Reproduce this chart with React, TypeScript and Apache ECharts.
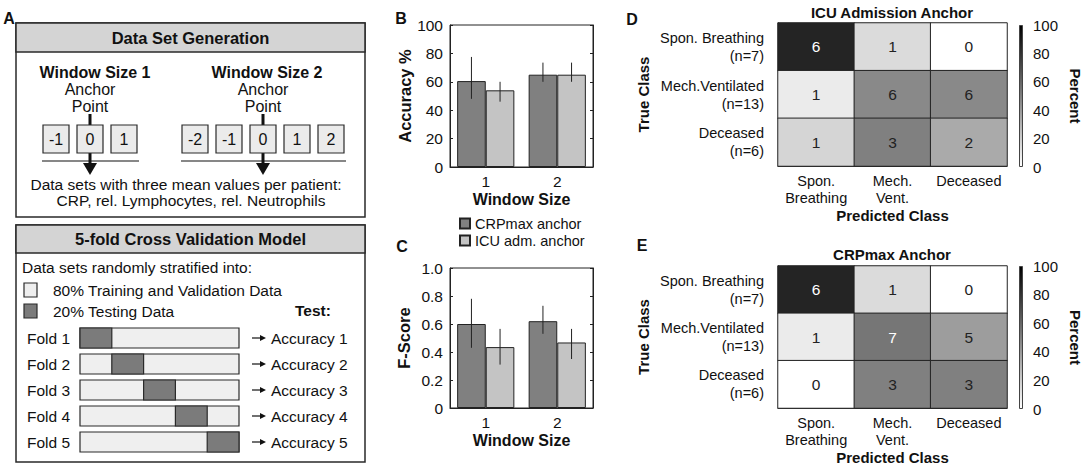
import React, { useEffect, useRef } from 'react';
import * as echarts from 'echarts';

const FONT = '"Liberation Sans", Arial, sans-serif';

// ---- Panel B / C data ----
const windowSizes = ['1', '2'];
const seriesNames = ['CRPmax anchor', 'ICU adm. anchor'];
const accuracyCRP = [60.5, 65];
const accuracyICU = [54, 65];
const accuracyErrCRP = [[48, 77.5], [60, 73.5]];
const accuracyErrICU = [[46, 60], [60, 73.5]];
const fscoreCRP = [0.6, 0.62];
const fscoreICU = [0.435, 0.468];
const fscoreErrCRP = [[0.43, 0.78], [0.53, 0.73]];
const fscoreErrICU = [[0.31, 0.565], [0.35, 0.565]];

// ---- Panel D / E data ----
const trueClasses = ['Spon. Breathing\n(n=7)', 'Mech.Ventilated\n(n=13)', 'Deceased\n(n=6)'];
const classSizes = [7, 13, 6];
const predictedClasses = ['Spon.\nBreathing', 'Mech.\nVent.', 'Deceased'];
const icuCounts = [[6, 1, 0], [1, 6, 6], [1, 3, 2]];
const crpCounts = [[6, 1, 0], [1, 7, 5], [0, 3, 3]];
const colorbarTicks = [0, 100];

// ---- Panel A texts ----
const window1Offsets = ['-1', '0', '1'];
const window2Offsets = ['-2', '-1', '0', '1', '2'];
const folds = ['Fold 1', 'Fold 2', 'Fold 3', 'Fold 4', 'Fold 5'];
const foldResults = ['Accuracy 1', 'Accuracy 2', 'Accuracy 3', 'Accuracy 4', 'Accuracy 5'];

const DARK = '#7b7b7b';
const LIGHT = '#efefef';
const LINE = '#2a2a2a';

function txt(text: string, x: number, y: number, size: number, opts: any = {}) {
  return {
    type: 'text',
    x,
    y,
    silent: true,
    style: {
      text,
      fontSize: size,
      fontFamily: FONT,
      fontWeight: opts.bold ? 'bold' : 'normal',
      fill: opts.color || '#111',
      align: opts.align || 'left',
      verticalAlign: 'middle',
      textAlign: opts.align || 'left',
      textVerticalAlign: 'middle',
    },
  };
}

function rect(x: number, y: number, w: number, h: number, fill: string, lw = 1.2) {
  return {
    type: 'rect',
    silent: true,
    shape: { x, y, width: w, height: h },
    style: { fill, stroke: LINE, lineWidth: lw },
  };
}

function line(x1: number, y1: number, x2: number, y2: number, lw = 1) {
  return {
    type: 'line',
    silent: true,
    shape: { x1, y1, x2, y2 },
    style: { stroke: '#111', lineWidth: lw },
  };
}

function buildPanelA() {
  const els: any[] = [];
  // top box
  els.push(rect(16, 23, 349, 194, '#fff', 1.5));
  els.push(rect(16, 23, 349, 29, '#d4d4d4', 1.5));
  els.push(txt('Data Set Generation', 190.5, 38, 16.5, { bold: true, align: 'center' }));
  els.push(txt('Window Size 1', 95, 72, 16, { bold: true, align: 'center' }));
  els.push(txt('Window Size 2', 267, 72, 16, { bold: true, align: 'center' }));
  [90, 263].forEach((cx) => {
    els.push(txt('Anchor', cx, 89, 16, { align: 'center' }));
    els.push(txt('Point', cx, 106, 16, { align: 'center' }));
    els.push(line(cx, 114, cx, 125, 3));
    els.push(line(cx, 152, cx, 164, 3));
    els.push({
      type: 'polygon',
      silent: true,
      shape: { points: [[cx - 7, 163], [cx + 7, 163], [cx, 175]] },
      style: { fill: '#111' },
    });
  });
  window1Offsets.forEach((t, i) => {
    const x0 = 43 + i * 34;
    els.push(rect(x0, 125, 26, 28, '#ebebeb'));
    els.push(txt(t, x0 + 13, 139.5, 16, { align: 'center' }));
  });
  window2Offsets.forEach((t, i) => {
    const x0 = 182 + i * 34;
    els.push(rect(x0, 125, 26, 28, '#ebebeb'));
    els.push(txt(t, x0 + 13, 139.5, 16, { align: 'center' }));
  });
  els.push(line(42, 161, 139, 161, 1.2));
  els.push(line(181, 161, 346, 161, 1.2));
  els.push(txt('Data sets with three mean values per patient:', 186, 184, 15.5, { align: 'center' }));
  els.push(txt('CRP, rel. Lymphocytes, rel. Neutrophils', 191, 200, 15.5, { align: 'center' }));

  // bottom box
  els.push(rect(16, 225, 349, 237, '#fff', 1.5));
  els.push(rect(16, 225, 349, 28, '#d4d4d4', 1.5));
  els.push(txt('5-fold Cross Validation Model', 190.5, 239, 16.5, { bold: true, align: 'center' }));
  els.push(txt('Data sets randomly stratified into:', 22, 267, 15.5));
  els.push(rect(24, 283, 13, 14, LIGHT));
  els.push(rect(24, 304, 13, 14, DARK));
  els.push(txt('80% Training and Validation Data', 53, 290, 15.5));
  els.push(txt('20% Testing Data', 53, 311, 15.5));
  els.push(txt('Test:', 295, 310, 15.5, { bold: true }));
  folds.forEach((f, i) => {
    const yc = 338 + i * 26;
    els.push(txt(f, 27, yc, 15.5));
    els.push(rect(80, yc - 10, 159, 20, LIGHT));
    els.push(rect(80 + i * 31.8, yc - 10, 31.8, 20, DARK));
    els.push(line(252, yc, 262, yc, 1.2));
    els.push({
      type: 'polygon',
      silent: true,
      shape: { points: [[260, yc - 3], [266, yc], [260, yc + 3]] },
      style: { fill: '#111' },
    });
    els.push(txt(foldResults[i], 271, yc, 15.5));
  });

  // panel letters
  els.push(txt('A', 9, 18, 16, { bold: true, align: 'center' }));
  els.push(txt('B', 401, 18, 16, { bold: true, align: 'center' }));
  els.push(txt('C', 402, 246, 16, { bold: true, align: 'center' }));
  els.push(txt('D', 632, 19, 16, { bold: true, align: 'center' }));
  els.push(txt('E', 642, 245, 16, { bold: true, align: 'center' }));
  return els;
}

function heatData(counts: number[][]) {
  const out: any[] = [];
  counts.forEach((row, r) => {
    row.forEach((n, c) => {
      const pct = (n / classSizes[r]) * 100;
      out.push({
        value: [c, r, pct],
        count: n,
        label: { color: pct > 50 ? '#ffffff' : '#222222' },
      });
    });
  });
  return out;
}

function errorSeries(data: number[][], xIdx: number, yIdx: number, side: number) {
  return {
    type: 'custom',
    xAxisIndex: xIdx,
    yAxisIndex: yIdx,
    z: 10,
    silent: true,
    data: data.map((d, i) => [i, d[0], d[1]]),
    renderItem: (params: any, api: any) => {
      const c = api.value(0);
      const lo = api.coord([c, api.value(1)]);
      const hi = api.coord([c, api.value(2)]);
      const band = api.size([1, 0])[0];
      const x = lo[0] + side * band * 0.2;
      return {
        type: 'line',
        shape: { x1: x, y1: lo[1], x2: x, y2: hi[1] },
        style: { stroke: '#222', lineWidth: 1 },
      };
    },
  };
}

function barAxes(gridIndex: number, name: string, max: number, interval: number, fmt: (v: number) => string, nameGap: number) {
  const x = {
    gridIndex,
    type: 'category',
    data: windowSizes,
    axisLine: { show: true, lineStyle: { color: '#222' } },
    axisTick: { show: false },
    axisLabel: { fontSize: 15.5, color: '#111', margin: 6, fontFamily: FONT },
    name: 'Window Size',
    nameLocation: 'middle',
    nameGap: 24,
    nameTextStyle: { fontSize: 16, fontWeight: 'bold', color: '#111', fontFamily: FONT },
  };
  const yL = {
    gridIndex,
    type: 'value',
    min: 0,
    max,
    interval,
    name,
    nameLocation: 'middle',
    nameRotate: 90,
    nameGap,
    nameTextStyle: { fontSize: 16.5, fontWeight: 'bold', color: '#111', fontFamily: FONT },
    axisLine: { show: true, lineStyle: { color: '#222' } },
    axisTick: { show: true, inside: true, length: 3, lineStyle: { color: '#222' } },
    axisLabel: { fontSize: 15.5, color: '#111', margin: 7, formatter: fmt, fontFamily: FONT },
    splitLine: { show: false },
  };
  const yR = {
    gridIndex,
    type: 'value',
    position: 'right',
    min: 0,
    max,
    interval,
    axisLine: { show: true, lineStyle: { color: '#222' } },
    axisTick: { show: true, inside: true, length: 3, lineStyle: { color: '#222' } },
    axisLabel: { show: false },
    splitLine: { show: false },
  };
  return { x, yL, yR };
}

function heatAxes(gridIndex: number) {
  const x = {
    gridIndex,
    type: 'category',
    data: predictedClasses,
    axisLine: { show: true, lineStyle: { color: '#222' } },
    axisTick: { show: false },
    axisLabel: { fontSize: 14.5, color: '#111', margin: 6, lineHeight: 17, fontFamily: FONT, interval: 0 },
    splitArea: { show: false },
    name: 'Predicted Class',
    nameLocation: 'middle',
    nameGap: 42,
    nameTextStyle: { fontSize: 15, fontWeight: 'bold', color: '#111', fontFamily: FONT },
  };
  const y = {
    gridIndex,
    type: 'category',
    inverse: true,
    data: trueClasses,
    axisLine: { show: true, lineStyle: { color: '#222' } },
    axisTick: { show: false },
    axisLabel: {
      fontSize: 14.5,
      color: '#111',
      margin: 14,
      lineHeight: 18,
      align: 'right',
      padding: [5, 0, 0, 0],
      fontFamily: FONT,
      interval: 0,
    },
    splitArea: { show: false },
    name: 'True Class',
    nameLocation: 'middle',
    nameRotate: 90,
    nameGap: 127,
    nameTextStyle: { fontSize: 15, fontWeight: 'bold', color: '#111', fontFamily: FONT },
  };
  return { x, y };
}

function colorbarAxes(gridIndex: number) {
  const x = {
    gridIndex,
    type: 'category',
    data: ['c'],
    show: false,
  };
  const y = {
    gridIndex,
    type: 'value',
    position: 'right',
    min: colorbarTicks[0],
    max: colorbarTicks[1],
    interval: 20,
    axisLine: { show: false },
    axisTick: { show: false },
    axisLabel: { fontSize: 15, color: '#111', margin: 10, fontFamily: FONT },
    splitLine: { show: false },
    name: 'Percent',
    nameLocation: 'middle',
    nameRotate: -90,
    nameGap: 45,
    nameTextStyle: { fontSize: 15, fontWeight: 'bold', color: '#111', fontFamily: FONT },
  };
  return { x, y };
}

export default function App() {
  const ref = useRef<HTMLDivElement>(null);
  useEffect(() => {
    if (!ref.current) return;
    const chart = echarts.init(ref.current, undefined, { renderer: 'svg' });
    const b = barAxes(0, 'Accuracy %', 100, 20, (v: number) => String(v), 37);
    const c = barAxes(1, 'F-Score', 1, 0.2, (v: number) => (v === 0 ? '0' : v.toFixed(1)), 38);
    const d = heatAxes(2);
    const e = heatAxes(3);
    const cd = colorbarAxes(4);
    const ce = colorbarAxes(5);
    const gradient = new echarts.graphic.LinearGradient(0, 0, 0, 1, [
      { offset: 0, color: '#000000' },
      { offset: 1, color: '#ffffff' },
    ]);
    const barStyle = (color: string) => ({ color, borderColor: '#222', borderWidth: 1 });
    const heatSeries = (xIdx: number, yIdx: number, counts: number[][]) => ({
      type: 'heatmap',
      xAxisIndex: xIdx,
      yAxisIndex: yIdx,
      data: heatData(counts),
      itemStyle: { borderColor: '#222', borderWidth: 1 },
      label: {
        show: true,
        fontSize: 15.5,
        fontFamily: FONT,
        formatter: (p: any) => String(p.data.count),
      },
      emphasis: { disabled: true },
    });
    chart.setOption({
      animation: false,
      textStyle: { fontFamily: FONT },
      title: [
        { text: 'ICU Admission Anchor', left: 892, top: 5, textAlign: 'center', padding: 0, textStyle: { fontSize: 15, fontWeight: 'bold', color: '#111', fontFamily: FONT } },
        { text: 'CRPmax Anchor', left: 892, top: 247, textAlign: 'center', padding: 0, textStyle: { fontSize: 15, fontWeight: 'bold', color: '#111', fontFamily: FONT } },
      ],
      legend: {
        data: seriesNames,
        left: 459,
        top: 216,
        orient: 'vertical',
        padding: 0,
        itemWidth: 10,
        itemHeight: 10,
        itemGap: 2,
        icon: 'rect',
        textStyle: { fontSize: 14.5, color: '#111', fontFamily: FONT },
        selectedMode: false,
      },
      grid: [
        { left: 450, top: 25, width: 143, height: 142, show: true, borderColor: '#222', borderWidth: 1, backgroundColor: 'transparent' },
        { left: 450, top: 268, width: 143, height: 140, show: true, borderColor: '#222', borderWidth: 1, backgroundColor: 'transparent' },
        { left: 778, top: 23, width: 229, height: 143 },
        { left: 778, top: 266, width: 229, height: 143 },
        { left: 1019, top: 25, width: 9, height: 142 },
        { left: 1019, top: 266, width: 9, height: 143 },
      ],
      xAxis: [b.x, c.x, d.x, e.x, cd.x, ce.x],
      yAxis: [b.yL, b.yR, c.yL, c.yR, d.y, e.y, cd.y, ce.y],
      visualMap: {
        type: 'continuous',
        show: false,
        min: 0,
        max: 100,
        dimension: 2,
        seriesIndex: [8, 9],
        inRange: { color: ['#ffffff', '#000000'] },
      },
      series: [
        { type: 'bar', name: seriesNames[0], xAxisIndex: 0, yAxisIndex: 0, data: accuracyCRP, barWidth: '40%', barGap: '0%', itemStyle: barStyle('#808080') },
        { type: 'bar', name: seriesNames[1], xAxisIndex: 0, yAxisIndex: 0, data: accuracyICU, barWidth: '40%', barGap: '0%', itemStyle: barStyle('#c4c4c4') },
        errorSeries(accuracyErrCRP, 0, 0, -1),
        errorSeries(accuracyErrICU, 0, 0, 1),
        { type: 'bar', name: seriesNames[0], xAxisIndex: 1, yAxisIndex: 2, data: fscoreCRP, barWidth: '40%', barGap: '0%', itemStyle: barStyle('#808080') },
        { type: 'bar', name: seriesNames[1], xAxisIndex: 1, yAxisIndex: 2, data: fscoreICU, barWidth: '40%', barGap: '0%', itemStyle: barStyle('#c4c4c4') },
        errorSeries(fscoreErrCRP, 1, 2, -1),
        errorSeries(fscoreErrICU, 1, 2, 1),
        heatSeries(2, 4, icuCounts),
        heatSeries(3, 5, crpCounts),
        {
          type: 'bar',
          xAxisIndex: 4,
          yAxisIndex: 6,
          data: [colorbarTicks[1]],
          barWidth: '100%',
          silent: true,
          itemStyle: { color: gradient, borderColor: '#444', borderWidth: 1 },
        },
        {
          type: 'bar',
          xAxisIndex: 5,
          yAxisIndex: 7,
          data: [colorbarTicks[1]],
          barWidth: '100%',
          silent: true,
          itemStyle: { color: gradient, borderColor: '#444', borderWidth: 1 },
        },
      ],
      graphic: buildPanelA(),
    });
    return () => chart.dispose();
  }, []);
  return (
    <div
      ref={ref}
      style={{ position: 'fixed', left: 0, top: 0, width: 1084, height: 466, background: '#fff' }}
    />
  );
}
